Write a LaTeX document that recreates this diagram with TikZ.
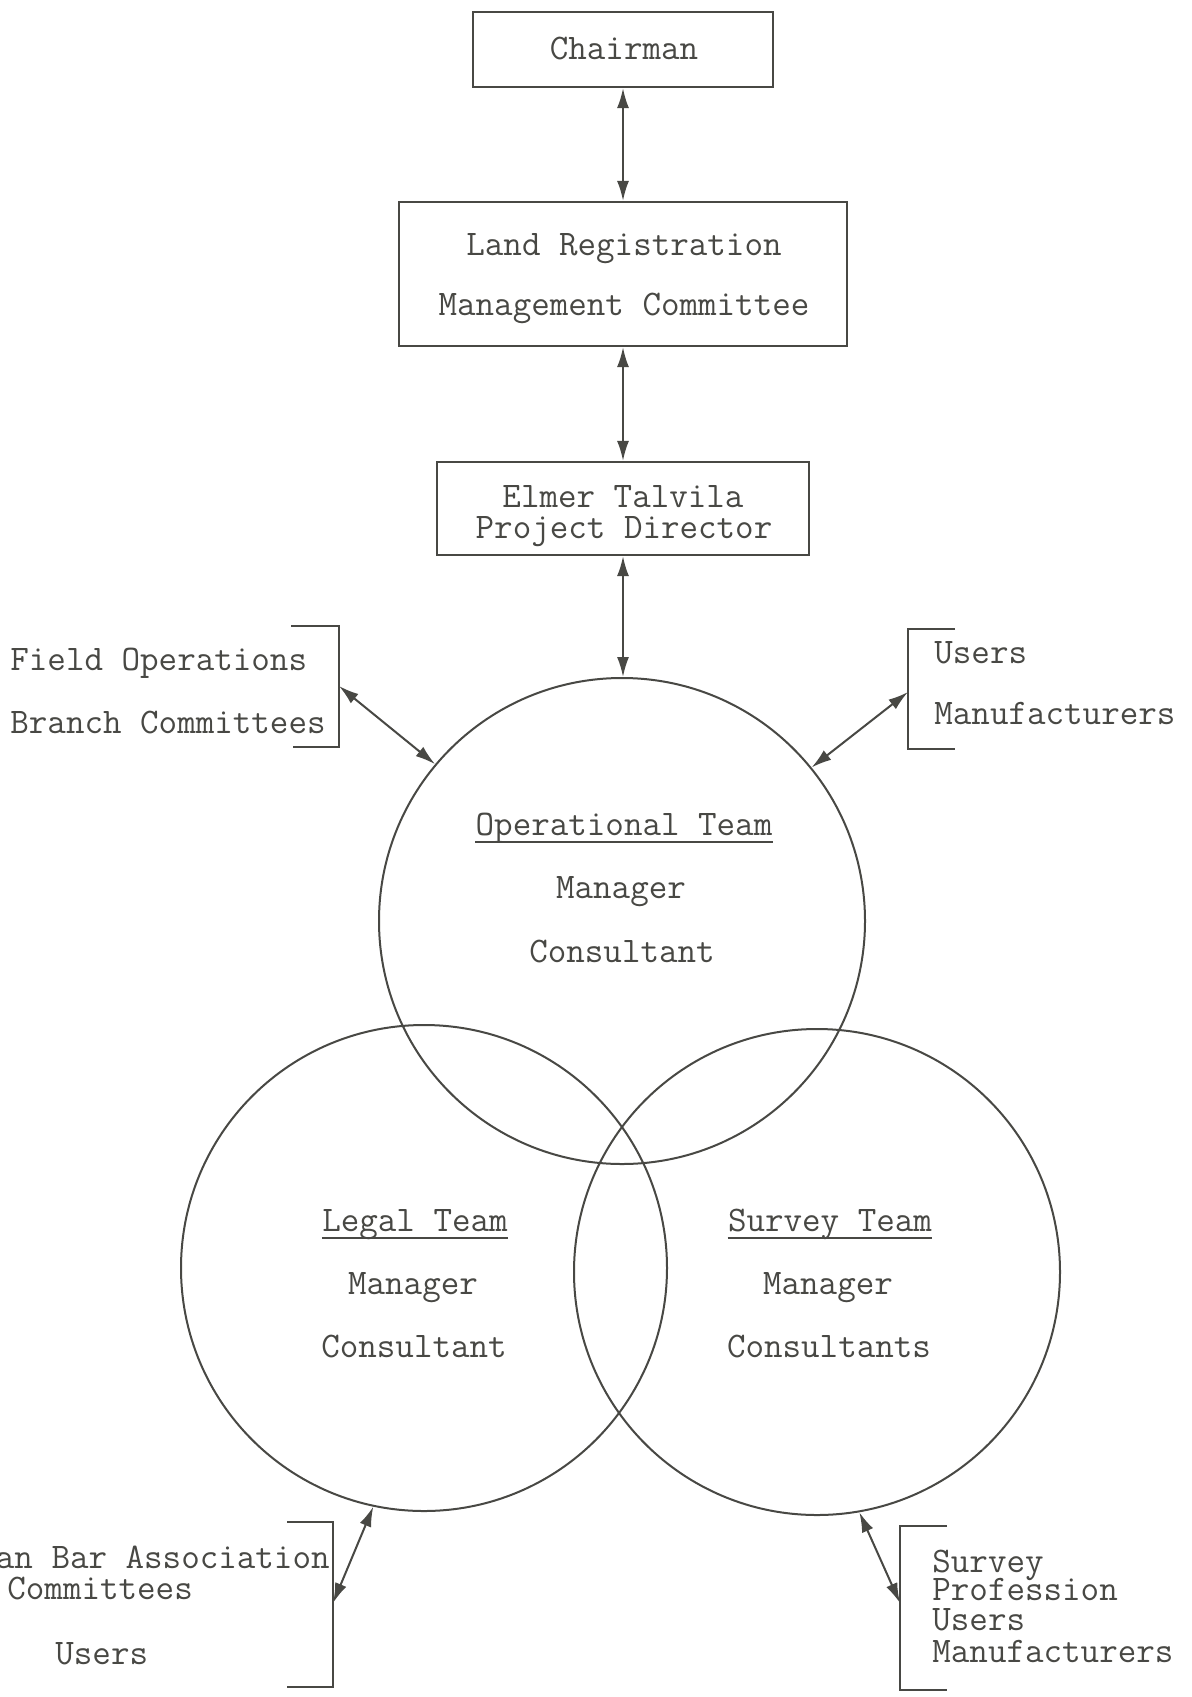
\documentclass[tikz,border=0pt]{standalone}
\usetikzlibrary{arrows.meta,calc}
\definecolor{ink}{RGB}{72,72,68}
\begin{document}
\begin{tikzpicture}[x=0.5pt,y=-0.5pt,
  box/.style={draw=ink, line width=1.1pt, rectangle, inner sep=0pt},
  txt/.style={text=ink, font=\ttfamily\fontsize{18}{20}\selectfont, inner sep=0pt, anchor=base, text height=10pt, text depth=2.5pt},
  txtl/.style={txt, anchor=base west},
  txtr/.style={txt, anchor=base east},
  team/.style={circle, draw=ink, line width=1pt, minimum size=243pt, inner sep=0pt},
  link/.style={{Latex[length=10pt,width=6pt]}-{Latex[length=10pt,width=6pt]}, draw=ink, line width=1pt},
  brk/.style={draw=ink, line width=1.1pt},
  uline/.style={draw=ink, line width=0.9pt}]
\useasboundingbox (0,0) rectangle (1192,1697);
\fill[white] (0,0) rectangle (1192,1697);

% boxes
\node[box, minimum width=150pt, minimum height=37.5pt] (chair) at (623,49.5) {};
\node[txt] (chairT) at (624,59) {Chairman};

\node[box, minimum width=224pt, minimum height=72pt] (lrmc) at (623,274) {};
\node[txt] (lrmcA) at (624,255) {Land Registration};
\node[txt] (lrmcB) at (624,315) {Management Committee};

\node[box, minimum width=186pt, minimum height=46.5pt] (elmer) at (623,508.5) {};
\node[txt] (elmerA) at (623,507) {Elmer Talvila};
\node[txt] (elmerB) at (624,538) {Project Director};

% team circles
\node[team] (op) at (622,921) {};
\node[team] (legal) at (424,1268) {};
\node[team] (survey) at (817,1272) {};

\node[txt] (opT) at (624,835) {Operational Team};
\draw[uline] ($(opT.base west)+(0,7)$) -- ($(opT.base east)+(0,7)$);
\node[txt] (opM) at (621,898) {Manager};
\node[txt] (opC) at (622,962) {Consultant};

\node[txt] (lgT) at (415,1231) {Legal Team};
\draw[uline] ($(lgT.base west)+(0,7)$) -- ($(lgT.base east)+(0,7)$);
\node[txt] (lgM) at (413,1294) {Manager};
\node[txt] (lgC) at (414,1357) {Consultant};

\node[txt] (svT) at (830,1231) {Survey Team};
\draw[uline] ($(svT.base west)+(0,7)$) -- ($(svT.base east)+(0,7)$);
\node[txt] (svM) at (828,1294) {Manager};
\node[txt] (svC) at (829,1357) {Consultants};

% vertical links
\draw[link] (chair.south) -- (lrmc.north);
\draw[link] (lrmc.south) -- (elmer.north);
\draw[link] (elmer.south) -- (elmer.south |- op.north);

% Field operations bracket
\draw[brk] (291,626) -- (339,626) -- (339,747) -- (293,747);
\coordinate (foc) at (339,686);
\node[txtl] (fo1) at (10,670) {Field Operations};
\node[txtl] (fo2) at (10,733) {Branch Committees};
\draw[link] (foc) -- (op.140);

% Users / Manufacturers bracket
\draw[brk] (955,629) -- (908,629) -- (908,749) -- (955,749);
\coordinate (umc) at (908,692);
\node[txtl] (um1) at (934,663) {Users};
\node[txtl] (um2) at (934,724) {Manufacturers};
\draw[link] (umc) -- (op.39);

% Bar association bracket
\draw[brk] (287,1522) -- (333,1522) -- (333,1687) -- (287,1687);
\coordinate (bac) at (333,1603);
\node[txtr] (ba1) at (330,1568) {an Bar Association};
\node[txtl] (ba2) at (7,1599) {Committees};
\node[txtl] (ba3) at (55,1664) {Users};
\draw[link] (bac) -- (legal.258);

% Survey profession bracket
\draw[brk] (947,1526) -- (900,1526) -- (900,1690) -- (947,1690);
\coordinate (spc) at (900,1603);
\node[txtl] (sp1) at (932,1572) {Survey};
\node[txtl] (sp2) at (932,1600) {Profession};
\node[txtl] (sp3) at (932,1630) {Users};
\node[txtl] (sp4) at (932,1662) {Manufacturers};
\draw[link] (spc) -- (survey.280.5);
\end{tikzpicture}
\end{document}
